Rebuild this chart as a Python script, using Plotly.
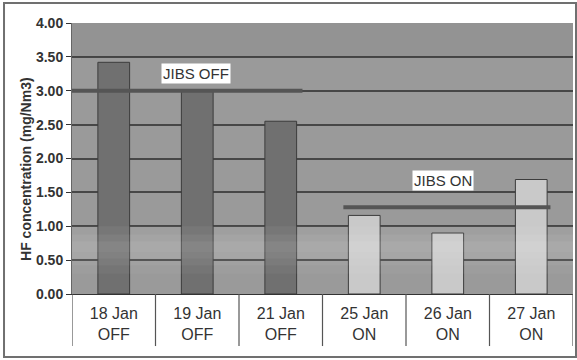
import plotly.graph_objects as go

# ---- data ----
dates = ["18 Jan", "19 Jan", "21 Jan", "25 Jan", "26 Jan", "27 Jan"]
status = ["OFF", "OFF", "OFF", "ON", "ON", "ON"]
hf_values = [3.42, 3.00, 2.55, 1.16, 0.90, 1.69]
y_ticks = [0.0, 0.5, 1.0, 1.5, 2.0, 2.5, 3.0, 3.5, 4.0]

off_level = 3.00
on_level = 1.28
off_span = [-0.5, 2.26]
on_span = [2.75, 5.23]

# ---- styles ----
FONT = "Liberation Sans, Arial, sans-serif"
off_color = "#707070"
on_color = "#c9c9c9"
line_color = "#555555"

x_pos = list(range(len(dates)))
tick_text = [f"{d}<br>{s}" for d, s in zip(dates, status)]
bar_colors = [off_color if s == "OFF" else on_color for s in status]

fig = go.Figure()
fig.add_bar(
    x=x_pos, y=hf_values, width=0.38,
    marker=dict(color=bar_colors, line=dict(color="#3c3c3c", width=1)),
    hoverinfo="skip",
)
fig.add_scatter(x=off_span, y=[off_level, off_level], mode="lines",
                line=dict(color=line_color, width=4), hoverinfo="skip")
fig.add_scatter(x=on_span, y=[on_level, on_level], mode="lines",
                line=dict(color=line_color, width=4), hoverinfo="skip")

shapes = []
# outer frame
shapes.append(dict(type="rect", xref="paper", yref="paper",
                   x0=-0.1357, x1=1.006, y0=-0.2325, y1=1.0738,
                   line=dict(color="#707070", width=2), layer="below"))
# category separators below axis
for b in [i - 0.5 for i in range(len(dates) + 1)]:
    shapes.append(dict(type="line", xref="x", yref="paper",
                       x0=b, x1=b, y0=0, y1=-0.192,
                       line=dict(color="#555555", width=1.2)))
# light band (photographic shading)
for y0, y1, op in [(0.30, 0.42, 0.04), (0.42, 0.52, 0.08), (0.52, 0.62, 0.12),
                   (0.62, 0.78, 0.15), (0.78, 0.88, 0.10), (0.88, 1.0, 0.05)]:
    shapes.append(dict(type="rect", xref="paper", yref="y", x0=0, x1=1,
                       y0=y0, y1=y1, fillcolor="white", opacity=op,
                       line=dict(width=0), layer="above"))
shapes.append(dict(type="rect", xref="paper", yref="y", x0=0, x1=1,
                   y0=3.5, y1=4.0, fillcolor="black", opacity=0.04,
                   line=dict(width=0), layer="above"))

annotations = [
    dict(x=0.98, y=3.26, xref="x", yref="y", text="JIBS OFF", showarrow=False,
         bgcolor="white", font=dict(family=FONT, size=15, color="#333333"),
         borderpad=1),
    dict(x=3.94, y=1.68, xref="x", yref="y", text="JIBS ON", showarrow=False,
         bgcolor="white", font=dict(family=FONT, size=15, color="#333333"),
         borderpad=1),
    dict(x=-0.112, y=0.461, xref="paper", yref="paper",
         text="<b>HF concentration (mg/Nm3)</b>", textangle=-90, showarrow=False,
         font=dict(family=FONT, size=14, color="#333333")),
]

fig.update_layout(
    width=577, height=360,
    margin=dict(l=72, r=4, t=23, b=66),
    paper_bgcolor="white", plot_bgcolor="#9a9a9a",
    showlegend=False, bargap=0.6,
    shapes=shapes, annotations=annotations,
    font=dict(family=FONT, color="#333333"),
)
fig.update_xaxes(
    range=[-0.5, 5.5], tickvals=x_pos, ticktext=tick_text, automargin=False,
    showgrid=False, ticks="", showline=True, linecolor="#333333", linewidth=1.2,
    zeroline=False, tickfont=dict(family=FONT, size=16, color="#333333"),
    ticklabelstandoff=5,
)
fig.update_yaxes(
    range=[0, 4], tickvals=y_ticks, ticktext=[f"<b>{v:.2f}</b>" for v in y_ticks],
    showgrid=True, gridcolor="#474747", gridwidth=1.5, automargin=False,
    ticks="outside", ticklen=5, tickcolor="#333333",
    showline=True, linecolor="#666666", linewidth=1, zeroline=False,
    tickfont=dict(family=FONT, size=14, color="#333333"),
)

fig.write_html(
    "out.html",
    config={"displayModeBar": False},
    post_script="document.body.style.margin='0';document.body.style.overflow='hidden';",
)
